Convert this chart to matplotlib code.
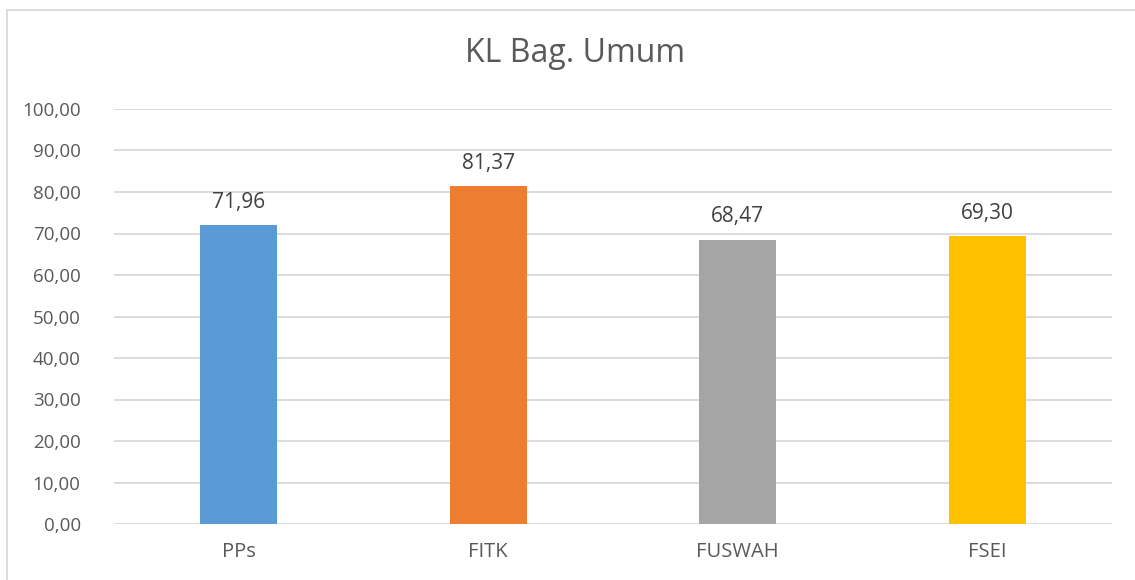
import matplotlib
matplotlib.use("Agg")
import matplotlib.pyplot as plt
from matplotlib.lines import Line2D

# data
categories = ["PPs", "FITK", "FUSWAH", "FSEI"]
values = [71.96, 81.37, 68.47, 69.30]
colors = ["#5B9BD5", "#ED7D31", "#A5A5A5", "#FFC000"]
yticks = [0, 10, 20, 30, 40, 50, 60, 70, 80, 90, 100]

plt.rcParams['font.family'] = ['Open Sans', 'DejaVu Sans']
txt = "#595959"

fig = plt.figure(figsize=(11.35, 5.8), dpi=100)
W, H = 1135, 580
ax = fig.add_axes([114 / W, 1 - 524 / H, (1112 - 114) / W, (524 - 109) / H])

x = range(len(categories))
ax.bar(x, values, width=0.31, color=colors, zorder=3)
for xi, v in zip(x, values):
    ax.annotate(f"{v:.2f}".replace(".", ","), (xi, v), xytext=(0, 9),
                textcoords="offset points", ha="center", va="bottom",
                fontsize=15, color="#404040")

ax.set_xlim(-0.5, len(categories) - 0.5)
ax.set_ylim(0, 100)
ax.set_yticks(yticks)
ax.set_yticklabels([f"{t:.2f}".replace(".", ",") for t in yticks])
ax.set_xticks(list(x))
ax.set_xticklabels(categories)
ax.tick_params(axis="both", length=0, colors=txt)
ax.tick_params(axis="y", pad=24, labelsize=13.5)
ax.tick_params(axis="x", pad=13, labelsize=14.5)
ax.grid(axis="y", color="#D9D9D9", linewidth=1.3, zorder=0)
for s in ax.spines.values():
    s.set_visible(False)

fig.text(575 / W, 1 - 54 / H, "KL Bag. Umum", ha="center", va="center",
         fontsize=23, color=txt)

# chart area border (left and top visible)
fig.add_artist(Line2D([7 / W, 7 / W], [0, 1 - 10 / H], color="#D9D9D9",
                      linewidth=1.3, transform=fig.transFigure))
fig.add_artist(Line2D([7 / W, 1], [1 - 10 / H, 1 - 10 / H], color="#D9D9D9",
                      linewidth=1.3, transform=fig.transFigure))

fig.savefig("out.png", dpi=100)
